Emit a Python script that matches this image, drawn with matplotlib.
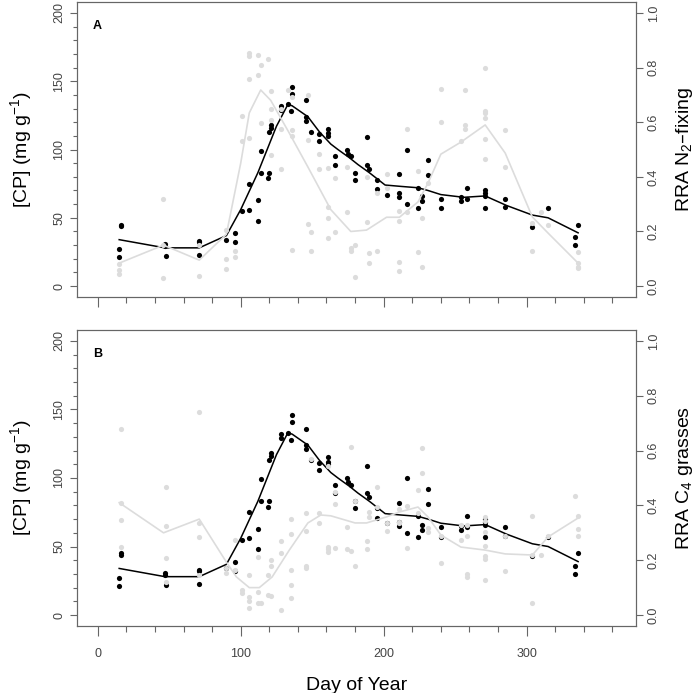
import numpy as np
import matplotlib
matplotlib.use('Agg')
import matplotlib.pyplot as plt

plt.rcParams['font.family'] = ['Liberation Sans Narrow', 'Liberation Sans', 'DejaVu Sans']
plt.rcParams['mathtext.default'] = 'regular'

# crude protein, black points (same in both panels)
cp_day = [15, 15, 16, 16, 47, 47, 48, 71, 71, 71, 90, 96, 96, 101, 106, 106,
          112, 112, 114, 114, 119, 120, 120, 121, 121, 128, 128, 133, 135, 136, 136,
          146, 146, 146, 149, 155, 155, 161, 161, 161, 166, 166, 174, 175, 177,
          180, 180, 188, 188, 190, 195, 195, 202, 211, 211, 211, 216, 216,
          224, 224, 227, 227, 231, 231, 240, 240, 254, 254, 258, 258,
          271, 271, 271, 271, 285, 285, 304, 315, 336, 334, 334]
cp_val = [21, 27, 44, 45, 31, 29, 22, 33, 32, 23, 34, 39, 32, 55, 75, 56,
          48, 63, 99, 83, 79, 83, 113, 116, 118, 129, 132, 133, 128, 146, 141,
          136, 124, 121, 113, 111, 106, 115, 112, 110, 95, 89, 100, 97, 95,
          83, 78, 109, 89, 86, 78, 71, 67, 68, 65, 82, 100, 60,
          72, 57, 66, 62, 92, 81, 64, 57, 65, 62, 72, 64,
          70, 68, 66, 57, 64, 58, 43, 57, 45, 36, 30]

# smoothed CP line
cp_line_day = [15, 47, 71, 90, 100, 112, 125, 133, 136, 147, 155, 163, 168, 176,
               182, 190, 201, 212, 224, 231, 240, 256, 271, 286, 304, 315, 336]
cp_line_val = [34, 28, 28, 37, 56, 83, 117, 133, 132, 124, 113, 104, 100, 94,
               89, 83, 74, 73, 72, 70, 67, 65, 66, 59, 52, 50, 39]

# RRA N2-fixing (panel A)
n2_day = [15, 15, 15, 46, 46, 46, 71, 71, 90, 90, 90, 96, 96, 101, 101,
          106, 106, 106, 106, 112, 112, 114, 114, 119, 121, 121, 121, 121,
          128, 128, 128, 133, 136, 136, 136, 136, 147, 147, 147, 149, 149,
          155, 155, 161, 161, 161, 161, 166, 166, 174, 174, 177, 177, 180, 180,
          188, 188, 190, 190, 195, 195, 202, 202, 211, 211, 211, 211, 216, 216,
          224, 224, 227, 227, 231, 240, 240, 254, 257, 257, 257,
          271, 271, 271, 271, 271, 271, 285, 285, 304, 304, 310, 315,
          336, 336, 336, 336]
n2_val = [0.06, 0.045, 0.08, 0.318, 0.15, 0.029, 0.15, 0.037, 0.205, 0.099, 0.062,
          0.13, 0.106, 0.623, 0.53, 0.853, 0.842, 0.758, 0.543, 0.846, 0.773,
          0.81, 0.597, 0.83, 0.714, 0.65, 0.608, 0.48, 0.428, 0.574, 0.65, 0.718,
          0.692, 0.57, 0.55, 0.132, 0.70, 0.535, 0.227, 0.198, 0.128, 0.483, 0.428,
          0.432, 0.29, 0.25, 0.176, 0.395, 0.198, 0.436, 0.27, 0.14, 0.13, 0.15, 0.033,
          0.235, 0.40, 0.12, 0.083, 0.13, 0.34, 0.41, 0.36, 0.24, 0.275, 0.088, 0.055,
          0.575, 0.27, 0.42, 0.124, 0.07, 0.25, 0.377, 0.722, 0.60, 0.53, 0.718, 0.59,
          0.575, 0.80, 0.64, 0.635, 0.615, 0.538, 0.465, 0.571, 0.436, 0.128, 0.23,
          0.27, 0.223, 0.125, 0.085, 0.07, 0.065]
n2_line_day = [15, 46, 71, 90, 100, 106, 114, 121, 134, 147, 163, 177, 188,
               202, 211, 224, 231, 240, 254, 271, 285, 304, 315, 336]
n2_line_val = [0.084, 0.15, 0.095, 0.19, 0.45, 0.634, 0.718, 0.68, 0.56, 0.436,
               0.28, 0.2, 0.205, 0.252, 0.252, 0.308, 0.377, 0.483, 0.527, 0.59,
               0.487, 0.253, 0.194, 0.084]

# RRA C4 grasses (panel B)
c4_day = [16, 16, 16, 16, 48, 48, 48, 48, 71, 71, 71, 71, 90, 90, 96, 96, 101, 101,
          106, 106, 106, 106, 112, 112, 112, 114, 119, 119, 121, 121, 121,
          128, 128, 128, 135, 135, 135, 135, 135, 146, 146, 146, 146, 149,
          155, 155, 161, 161, 161, 161, 166, 166, 166, 174, 174, 177, 177, 180, 180,
          188, 188, 190, 190, 195, 195, 202, 202, 211, 211, 211, 216, 216,
          224, 224, 227, 227, 231, 231, 240, 240, 254, 254, 258, 258, 258, 258,
          271, 271, 271, 271, 271, 271, 271, 285, 285, 304, 304, 304, 310, 315,
          334, 336, 336, 336]
c4_val = [0.68, 0.41, 0.347, 0.25, 0.467, 0.325, 0.208, 0.12, 0.74, 0.336, 0.285, 0.146,
          0.17, 0.153, 0.274, 0.164, 0.09, 0.08, 0.146, 0.066, 0.05, 0.026,
          0.084, 0.044, 0.21, 0.044, 0.146, 0.073, 0.18, 0.2, 0.07,
          0.27, 0.226, 0.018, 0.35, 0.296, 0.164, 0.11, 0.062, 0.372, 0.307, 0.18, 0.17,
          0.57, 0.372, 0.336, 0.25, 0.24, 0.23, 0.545, 0.45, 0.405, 0.245, 0.32, 0.24,
          0.613, 0.235, 0.18, 0.415, 0.27, 0.24, 0.376, 0.357, 0.467, 0.394, 0.336, 0.307,
          0.387, 0.34, 0.335, 0.398, 0.245, 0.456, 0.372, 0.61, 0.518, 0.318, 0.303,
          0.288, 0.19, 0.33, 0.274, 0.15, 0.14, 0.288, 0.33,
          0.357, 0.343, 0.303, 0.252, 0.215, 0.205, 0.128, 0.288, 0.16,
          0.36, 0.219, 0.044, 0.219, 0.288, 0.434, 0.36, 0.314, 0.288]
c4_line_day = [15, 46, 71, 90, 97, 106, 113, 122, 134, 147, 156, 163, 180, 188,
               202, 211, 224, 231, 240, 254, 271, 285, 304, 315, 336]
c4_line_val = [0.41, 0.3, 0.35, 0.193, 0.139, 0.1, 0.1, 0.139, 0.237, 0.336, 0.365,
               0.362, 0.336, 0.336, 0.358, 0.376, 0.394, 0.358, 0.292, 0.248, 0.237,
               0.223, 0.219, 0.285, 0.354]

panels = [('A', 'RRA N$_2$\u2013fixing', n2_day, n2_val, n2_line_day, n2_line_val),
          ('B', 'RRA C$_4$ grasses', c4_day, c4_val, c4_line_day, c4_line_val)]

axc = '#666666'
grey = '#dcdcdc'

fig = plt.figure(figsize=(7, 6.93), dpi=100)
boxes = [[0.11, 0.5714, 0.7986, 0.4257], [0.11, 0.0967, 0.7986, 0.4271]]

for k, (tag, rlabel, gd, gv, gld, glv) in enumerate(panels):
    ax = fig.add_axes(boxes[k])
    ax.scatter(cp_day, cp_val, s=14, color='black', zorder=3, linewidths=0)
    ax.plot(cp_line_day, cp_line_val, color='black', lw=1.1, zorder=4)
    ax.set_xlim(-14.5, 376.5)
    ax.set_ylim(-8, 208)
    ax.set_yticks([0, 50, 100, 150, 200])
    ax.set_yticks(np.arange(0, 201, 10), minor=True)
    ax.set_xticks([0, 100, 200, 300])
    ax.set_xticks(np.arange(0, 361, 20), minor=True)
    ax.tick_params(axis='y', labelrotation=90, labelsize=9, colors=axc, labelcolor='#444444',
                   length=5, width=0.8)
    ax.tick_params(axis='y', which='minor', length=3, width=0.8, colors=axc)
    ax.tick_params(axis='x', labelsize=9, colors=axc, labelcolor='#444444', length=7, width=0.8, pad=9)
    ax.tick_params(axis='x', which='minor', length=4, width=0.8, colors=axc)
    for lab in ax.get_yticklabels():
        lab.set_va('center')
    ax.set_ylabel('[CP] (mg g$^{-1}$)', fontsize=14, labelpad=14)
    if k == 0:
        ax.tick_params(axis='x', labelbottom=False)
    else:
        ax.set_xlabel('Day of Year', fontsize=14, labelpad=12)
    for sp in ax.spines.values():
        sp.set_color(axc)
        sp.set_linewidth(0.8)
    ax.text(0.028, 0.91, tag, transform=ax.transAxes, fontsize=9, fontweight='bold')

    ax2 = ax.twinx()
    ax2.scatter(gd, gv, s=14, color=grey, zorder=2, linewidths=0)
    ax2.plot(gld, glv, color=grey, lw=1.2, zorder=2)
    ax2.set_ylim(-0.04, 1.04)
    ax2.set_yticks([0.0, 0.2, 0.4, 0.6, 0.8, 1.0])
    ax2.set_yticklabels(['0.0', '0.2', '0.4', '0.6', '0.8', '1.0'])
    ax2.tick_params(axis='y', labelrotation=90, labelsize=9, colors=axc, labelcolor='#444444',
                    length=5, width=0.8)
    for lab in ax2.get_yticklabels():
        lab.set_va('center')
    ax2.set_ylabel(rlabel, fontsize=14, rotation=90, labelpad=10)
    for sp in ax2.spines.values():
        sp.set_color(axc)
        sp.set_linewidth(0.8)

fig.savefig('out.png', dpi=100)
